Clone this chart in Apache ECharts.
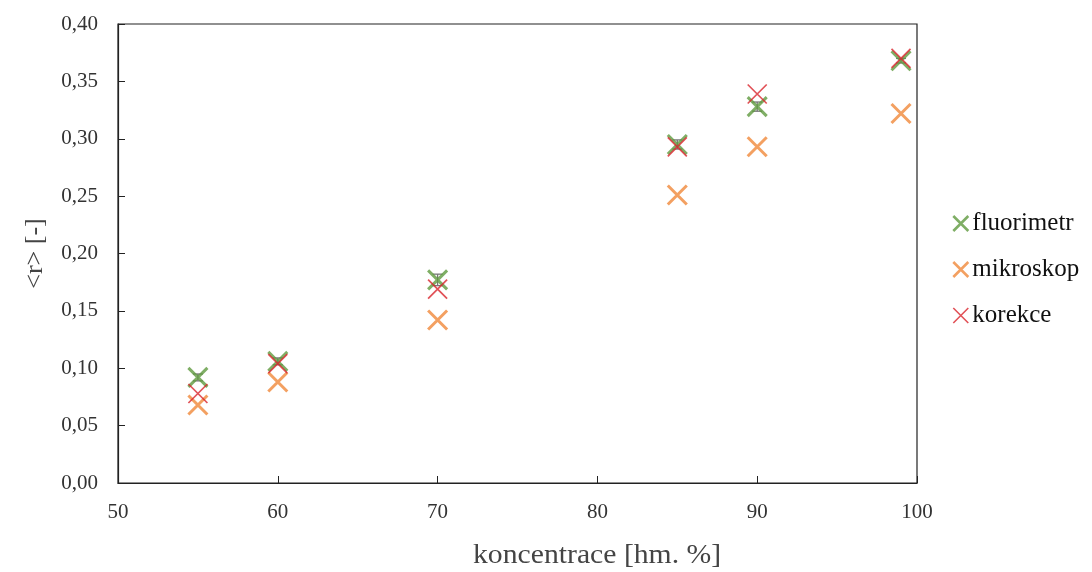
<!DOCTYPE html>
<html><head><meta charset="utf-8">
<script src="https://cdn.jsdelivr.net/npm/echarts@6/dist/echarts.min.js"></script>
<style>html,body{margin:0;padding:0;background:#fff}#c{width:1092px;height:572px}</style>
</head><body><div id="c"></div>
<script>
const conc = [55, 60, 70, 85, 90, 99];
const fluorimetr = [0.092, 0.106, 0.177, 0.295, 0.328, 0.368];
const fluorimetrErr = [0.003, 0.003, 0.005, 0.004, 0.004, 0.002];
const mikroskop = [0.068, 0.088, 0.142, 0.251, 0.293, 0.322];
const korekce = [0.078, 0.104, 0.169, 0.293, 0.339, 0.370];

const X = 'path://M0,0L10,10M10,0L0,10';
const serif = '"Liberation Serif", "DejaVu Serif", serif';
const GREEN = '#5f9a3f', ORANGE = '#f0883a', RED = '#d9262d';
function pts(ys){ return conc.map((x,i)=>[x, ys[i]]); }
function sc(name, ys, color, bw){
  return {name, type:'scatter', data:pts(ys), symbol:X, symbolSize:19,
    itemStyle:{color:'rgba(0,0,0,0)', borderColor:color, borderWidth:bw}, z:3};
}
const chart = echarts.init(document.getElementById('c'));
chart.setOption({
  animation:false,
  grid:{left:118, right:175, top:24, bottom:89, show:true, borderColor:'#222', borderWidth:1.2},
  legend:{orient:'vertical', left:947, top:206, itemGap:21, itemWidth:15, itemHeight:15,
    textStyle:{fontFamily:serif, fontSize:25, color:'#111', padding:[0,0,0,-1]},
    data:[
      {name:'fluorimetr', icon:X, itemStyle:{color:'rgba(0,0,0,0)', borderColor:GREEN, borderWidth:2.6}},
      {name:'mikroskop', icon:X, itemStyle:{color:'rgba(0,0,0,0)', borderColor:ORANGE, borderWidth:2.6}},
      {name:'korekce', icon:X, itemStyle:{color:'rgba(0,0,0,0)', borderColor:RED, borderWidth:1.6}}
    ]},
  xAxis:{type:'value', min:50, max:100, interval:10,
    axisLine:{show:true, lineStyle:{color:'#222', width:1.2}},
    axisTick:{inside:true, length:7, lineStyle:{color:'#222'}},
    splitLine:{show:false},
    axisLabel:{fontFamily:serif, fontSize:21, color:'#333', margin:19},
  },
  yAxis:{type:'value', min:0, max:0.4, interval:0.05,
    name:'<r> [-]', nameLocation:'middle', nameGap:70,
    nameTextStyle:{fontFamily:serif, fontSize:26, color:'#444'},
    axisLine:{show:true, lineStyle:{color:'#222', width:1.2}},
    axisTick:{inside:true, length:7, lineStyle:{color:'#222'}},
    splitLine:{show:false},
    axisLabel:{fontFamily:serif, fontSize:21, color:'#333', margin:20,
      formatter:v=>v.toFixed(2).replace('.',',')}
  },
  graphic:[{type:'text', left:473, top:542, scaleX:1.1,
    style:{text:'koncentrace [hm. %]', font:'27px '+serif, fill:'#444'}}],
  series:[
    {type:'custom', name:'err', silent:true, z:2,
      data:conc.map((x,i)=>[x, fluorimetr[i]-fluorimetrErr[i], fluorimetr[i]+fluorimetrErr[i]]),
      renderItem:function(params, api){
        const lo = api.coord([api.value(0), api.value(1)]);
        const hi = api.coord([api.value(0), api.value(2)]);
        const w = 5;
        const st = {stroke:'#777', lineWidth:1.3};
        return {type:'group', children:[
          {type:'line', shape:{x1:hi[0],y1:hi[1],x2:lo[0],y2:lo[1]}, style:st},
          {type:'line', shape:{x1:hi[0]-w,y1:hi[1],x2:hi[0]+w,y2:hi[1]}, style:st},
          {type:'line', shape:{x1:lo[0]-w,y1:lo[1],x2:lo[0]+w,y2:lo[1]}, style:st}
        ]};
      }},
    sc('fluorimetr', fluorimetr, GREEN, 3),
    sc('mikroskop', mikroskop, ORANGE, 3),
    sc('korekce', korekce, RED, 1.7)
  ]
});
</script></body></html>
